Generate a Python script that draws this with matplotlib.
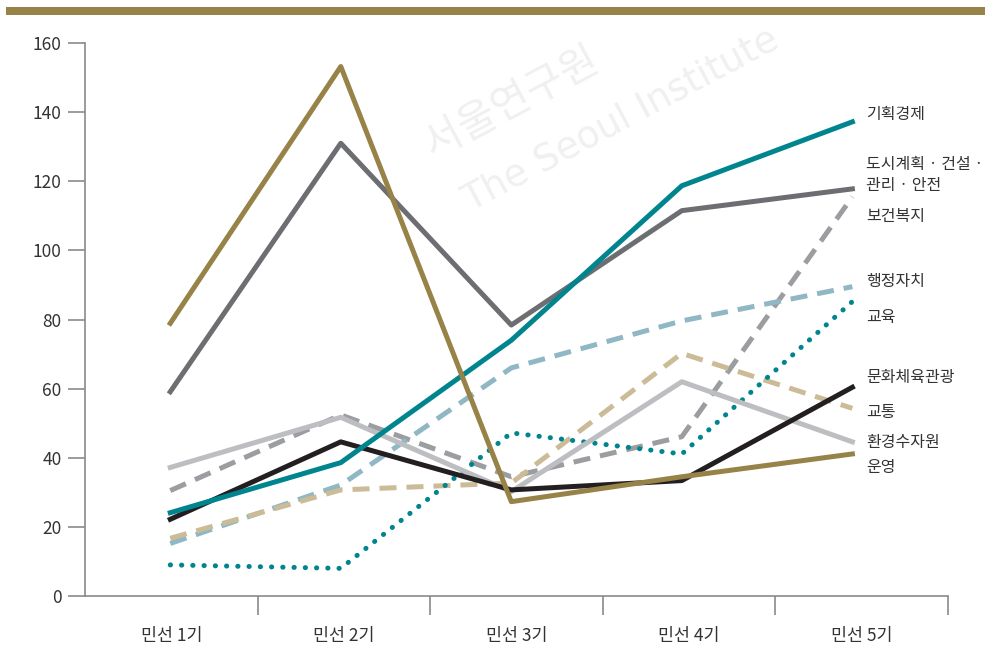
import numpy as np
import matplotlib
matplotlib.use("Agg")
import matplotlib.pyplot as plt

plt.rcParams['font.family'] = ['Noto Sans CJK KR', 'DejaVu Sans']

# data
terms = ['민선 1기', '민선 2기', '민선 3기', '민선 4기', '민선 5기']

planning_economy = [24.1, 38.6, 74.0, 118.7, 137.2]     # 기획경제
urban_safety = [59.1, 131.0, 78.4, 111.5, 117.8]        # 도시계획·건설·관리·안전
health_welfare = [30.5, 52.4, 34.5, 46.1, 115.5]        # 보건복지
administration = [15.2, 32.1, 66.0, 79.6, 89.5]        # 행정자치
education = [9.0, 8.0, 47.2, 41.1, 85.2]                # 교육
culture_tourism = [22.2, 44.6, 30.7, 33.4, 60.4]        # 문화체육관광
transport = [16.7, 30.7, 32.7, 70.2, 54.3]              # 교통
environment = [37.2, 51.7, 30.2, 62.0, 44.6]            # 환경수자원
operation = [78.9, 153.2, 27.3, 34.5, 41.1]             # 운영

label_names = ['기획경제', '도시계획 · 건설 ·\n관리 · 안전', '보건복지', '행정자치', '교육',
               '문화체육관광', '교통', '환경수자원', '운영']
label_y = [139.2, 121.8, 109.7, 90.9, 80.7, 63.1, 53.0, 44.3, 37.3]

TEAL = '#00858f'
GOLD = '#978247'

fig = plt.figure(figsize=(9.85, 6.64), dpi=100)
ax = fig.add_axes([0.0863, 0.1024, 0.876, 0.8328])

# faint watermark
fig.text(0.52, 0.845, '서울연구원', rotation=28, fontsize=30, color='#f0f0f0',
         ha='center', va='center', zorder=0)
fig.text(0.63, 0.82, 'The Seoul Institute', rotation=28, fontsize=27, color='#f0f0f0',
         ha='center', va='center', zorder=0, family='DejaVu Sans')

x = np.arange(len(terms))
lw = 3.6
dash = (0, (3.4, 2.0))

ax.plot(x, health_welfare, color='#9c9da0', lw=lw, ls=dash, dash_capstyle='butt')
ax.plot(x, administration, color='#8fb7c4', lw=lw, ls=dash, dash_capstyle='butt')
ax.plot(x, transport, color='#cbbc97', lw=lw, ls=dash, dash_capstyle='butt')
ax.plot(x, education, color=TEAL, lw=lw, ls=(0, (0.05, 2.2)), dash_capstyle='round')
ax.plot(x, environment, color='#bdbec1', lw=lw)
ax.plot(x, culture_tourism, color='#231f20', lw=lw)
ax.plot(x, urban_safety, color='#6d6e71', lw=lw)
ax.plot(x, planning_economy, color=TEAL, lw=lw)
ax.plot(x, operation, color=GOLD, lw=lw)

for name, yv in zip(label_names, label_y):
    ax.text(4.08, yv, name, fontsize=11.5, color='#333333', va='center', ha='left',
            linespacing=1.3, clip_on=False)

xmin, xmax = -0.5, 4.56
ax.set_xlim(xmin, xmax)
ax.set_ylim(0, 160)
ax.set_yticks(np.arange(0, 161, 20))
ax.tick_params(axis='y', length=12, width=1.2, color='#8a8a8a', labelsize=12.5,
               labelcolor='#333333', pad=5)

# band edges get tick marks, band centres get the term labels
edges = np.linspace(xmin, xmax, len(terms) + 1)
ax.set_xticks(edges[1:])
ax.set_xticklabels([])
ax.set_xticks((edges[:-1] + edges[1:]) / 2, minor=True)
ax.set_xticklabels(terms, minor=True)
ax.tick_params(axis='x', which='major', length=14, width=1.2, color='#8a8a8a')
ax.tick_params(axis='x', which='minor', length=0, labelsize=12.5, labelcolor='#333333', pad=22)

for side in ['top', 'right']:
    ax.spines[side].set_visible(False)
for side in ['left', 'bottom']:
    ax.spines[side].set_color('#8a8a8a')
    ax.spines[side].set_linewidth(1.2)

# gold band at the top
fig.add_artist(plt.Rectangle((0.006, 1 - 15 / 664), 0.994, 8 / 664,
                             transform=fig.transFigure, color=GOLD, lw=0))

fig.savefig('out.png', dpi=100)
